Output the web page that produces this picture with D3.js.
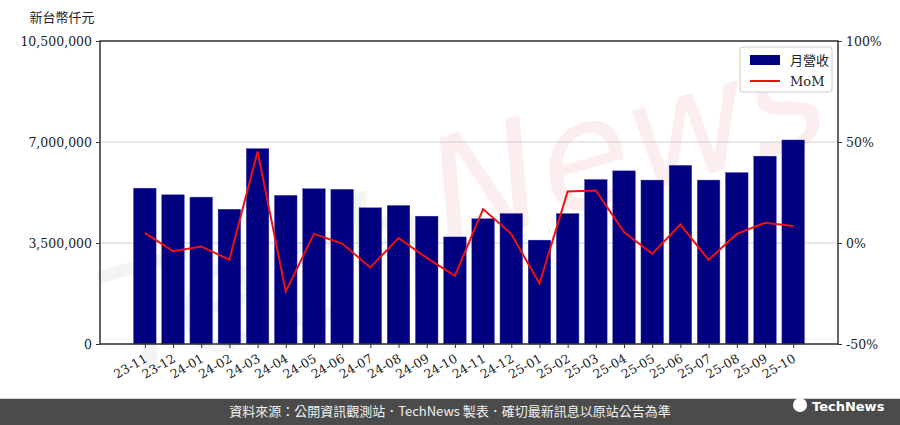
<!DOCTYPE html>
<html>
<head>
<meta charset="utf-8">
<script src="https://cdn.jsdelivr.net/npm/d3@7"></script>
<style>
  html, body { margin: 0; padding: 0; background: #fff; }
  svg { display: block; }
</style>
</head>
<body>
<svg id="chart" width="900" height="425"></svg>
<script>
const categories = ["23-11","23-12","24-01","24-02","24-03","24-04","24-05","24-06","24-07","24-08","24-09","24-10",
                    "24-11","24-12","25-01","25-02","25-03","25-04","25-05","25-06","25-07","25-08","25-09","25-10"];
const revenue = [5400000,5170000,5090000,4670000,6770000,5150000,5380000,5360000,4720000,4800000,4430000,3710000,
                 4340000,4520000,3600000,4520000,5700000,6000000,5680000,6190000,5680000,5940000,6510000,7070000];
const mom = [5.0,-4.1,-1.7,-8.3,45.3,-24.0,4.5,-0.3,-12.1,2.5,-7.4,-16.2,
             16.8,4.5,-20.1,25.5,26.0,5.4,-5.3,9.1,-8.3,4.5,10.0,8.4];
const leftTicks = [0,3500000,7000000,10500000];
const rightTicks = [-50,0,50,100];
const unitLabel = "新台幣仟元";
const legendLabels = ["月營收","MoM"];
const footerText = "資料來源：公開資訊觀測站．TechNews 製表．確切最新訊息以原站公告為準";

const svg = d3.select("#chart");
const L = 100, R = 838, T = 41, B = 344;
const FONT = "'DejaVu Serif','Liberation Serif',serif";
const CJK = "'Noto Sans CJK TC','Noto Sans CJK SC',sans-serif";

// faint watermark
const wm = svg.append("g").attr("transform","translate(440,230) rotate(-16)").attr("opacity",0.6);
wm.append("text").attr("x",-350).attr("y",55).attr("font-family","'DejaVu Sans',sans-serif")
  .attr("font-size",150).attr("font-style","italic").attr("fill","#eeeeee").text("Tech");
wm.append("text").attr("x",0).attr("y",20).attr("font-family","'DejaVu Sans',sans-serif")
  .attr("font-size",150).attr("font-style","italic").attr("fill","#fbe4e4").text("News");

const n = categories.length;
const x = d3.scaleLinear().domain([-0.4 - 0.05*(n-1+0.8), n-1+0.4 + 0.05*(n-1+0.8)]).range([L, R]);
const step = x(1) - x(0);
const yL = d3.scaleLinear().domain([0, 10500000]).range([B, T]);
const yR = d3.scaleLinear().domain([-50, 100]).range([B, T]);

// grid
svg.append("g").selectAll("line").data(leftTicks).join("line")
  .attr("x1",L).attr("x2",R).attr("y1",d=>yL(d)).attr("y2",d=>yL(d))
  .attr("stroke","#d0d0d0").attr("stroke-width",1);

// bars
svg.append("g").selectAll("rect").data(revenue).join("rect")
  .attr("x",(d,i)=>x(i)-0.4*step).attr("width",0.8*step)
  .attr("y",d=>yL(d)).attr("height",d=>B-yL(d))
  .attr("fill","#000080").attr("stroke","#3a3ab0").attr("stroke-width",0.4);

// line
svg.append("path").datum(mom)
  .attr("d", d3.line().x((d,i)=>x(i)).y(d=>yR(d)))
  .attr("fill","none").attr("stroke","#ee1111").attr("stroke-width",2);

// axes
const fmt = d3.format(",");
const axL = svg.append("g").attr("transform",`translate(${L},0)`)
  .call(d3.axisLeft(yL).tickValues(leftTicks).tickFormat(d=>fmt(d)).tickSize(4).tickPadding(4));
const axR = svg.append("g").attr("transform",`translate(${R},0)`)
  .call(d3.axisRight(yR).tickValues(rightTicks).tickFormat(d=>d+"%").tickSize(4).tickPadding(4));
const axB = svg.append("g").attr("transform",`translate(0,${B})`)
  .call(d3.axisBottom(x).tickValues(d3.range(n)).tickFormat(i=>categories[i]).tickSize(4));
[axL,axR,axB].forEach(a=>{
  a.select(".domain").remove();
  a.selectAll("line").attr("stroke","#333");
  a.selectAll("text").attr("font-family",FONT).attr("font-size",12.5).attr("fill","#222");
});
axB.selectAll("text")
  .attr("text-anchor","end").attr("dy",0).attr("y",0)
  .attr("transform","translate(3,17) rotate(-30)");

// frame
svg.append("rect").attr("x",L).attr("y",T).attr("width",R-L).attr("height",B-T)
  .attr("fill","none").attr("stroke","#333").attr("stroke-width",1.5);

// unit label
svg.append("text").attr("x",62).attr("y",22).attr("text-anchor","middle")
  .attr("font-family",CJK).attr("font-size",13).attr("fill","#222").text(unitLabel);

// legend
const lg = svg.append("g").attr("transform","translate(740,47)");
lg.append("rect").attr("width",92).attr("height",45).attr("rx",3)
  .attr("fill","#fff").attr("fill-opacity",0.85).attr("stroke","#ccc");
lg.append("rect").attr("x",10).attr("y",8).attr("width",30).attr("height",10).attr("fill","#000080");
lg.append("line").attr("x1",10).attr("x2",40).attr("y1",34).attr("y2",34).attr("stroke","#ee1111").attr("stroke-width",2);
lg.append("text").attr("x",50).attr("y",18).attr("font-family",CJK).attr("font-size",13).attr("fill","#222").text(legendLabels[0]);
lg.append("text").attr("x",50).attr("y",39).attr("font-family",FONT).attr("font-size",13).attr("fill","#222").text(legendLabels[1]);

// footer
svg.append("rect").attr("x",0).attr("y",398).attr("width",900).attr("height",1).attr("fill","#cfcfcf");
svg.append("rect").attr("x",0).attr("y",399).attr("width",900).attr("height",26).attr("fill","#4b4b4b");
svg.append("text").attr("x",450).attr("y",416).attr("text-anchor","middle")
  .attr("font-family",CJK).attr("font-size",13).attr("fill","#f0f0f0").text(footerText);
const logo = svg.append("g");
logo.append("circle").attr("cx",800).attr("cy",405).attr("r",7).attr("fill","#fff");
logo.append("text").attr("x",812).attr("y",411).attr("font-family","'DejaVu Sans',sans-serif").attr("font-weight","bold")
  .attr("font-size",13).attr("fill","#fff").text("TechNews");
</script>
</body>
</html>
